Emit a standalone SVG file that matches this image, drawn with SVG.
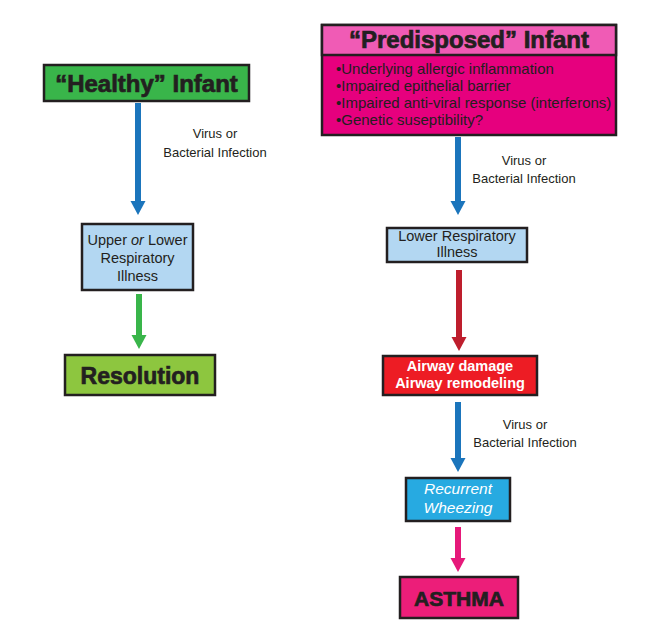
<svg xmlns="http://www.w3.org/2000/svg" width="646" height="634" viewBox="0 0 646 634">
<style>
  .box{stroke:#231f20;stroke-width:2.5}
  .t{font-family:"Liberation Sans",Arial,sans-serif;fill:#231f20;text-anchor:middle}
  .w{fill:#ffffff}
  .hd{font-weight:bold;stroke:#231f20;stroke-width:0.7}
  .lbl{font-size:13px}
  .bl{font-size:15px;fill:#231f20;font-family:"Liberation Sans",Arial,sans-serif}
  .sh{stroke-width:6;fill:none}
</style>
<defs>
  <marker id="hb" markerUnits="userSpaceOnUse" markerWidth="15" markerHeight="16" refX="0" refY="7.5" orient="auto"><path d="M0,0 L14,7.5 L0,15 z" fill="#1b75bc"/></marker>
  <marker id="hg" markerUnits="userSpaceOnUse" markerWidth="15" markerHeight="16" refX="0" refY="7.5" orient="auto"><path d="M0,0 L14,7.5 L0,15 z" fill="#39b54a"/></marker>
  <marker id="hr" markerUnits="userSpaceOnUse" markerWidth="15" markerHeight="16" refX="0" refY="7.5" orient="auto"><path d="M0,0 L14,7.5 L0,15 z" fill="#be1e2d"/></marker>
  <marker id="hp" markerUnits="userSpaceOnUse" markerWidth="15" markerHeight="16" refX="0" refY="7.5" orient="auto"><path d="M0,0 L14,7.5 L0,15 z" fill="#e6197a"/></marker>
</defs>
<rect width="646" height="634" fill="#ffffff"/>

<g id="connectors">
  <line class="sh" x1="138" y1="103" x2="138" y2="201" stroke="#1b75bc" marker-end="url(#hb)"/>
  <line class="sh" x1="139" y1="294" x2="139" y2="335" stroke="#39b54a" marker-end="url(#hg)"/>
  <line class="sh" x1="458" y1="137" x2="458" y2="201" stroke="#1b75bc" marker-end="url(#hb)"/>
  <line class="sh" x1="459" y1="270" x2="459" y2="337" stroke="#be1e2d" marker-end="url(#hr)"/>
  <line class="sh" x1="458" y1="402" x2="458" y2="458" stroke="#1b75bc" marker-end="url(#hb)"/>
  <line class="sh" x1="458" y1="527" x2="458" y2="558" stroke="#e6197a" marker-end="url(#hp)"/>
  <text class="t lbl" x="215" y="138">Virus or</text>
  <text class="t lbl" x="215" y="157">Bacterial Infection</text>
  <text class="t lbl" x="524" y="165">Virus or</text>
  <text class="t lbl" x="524" y="183">Bacterial Infection</text>
  <text class="t lbl" x="525" y="429">Virus or</text>
  <text class="t lbl" x="525" y="447">Bacterial Infection</text>
</g>

<g id="healthy">
  <rect class="box" x="44" y="65" width="205" height="36" fill="#39b54a"/>
  <text class="t hd" x="146.5" y="92" font-size="24">“Healthy” Infant</text>
</g>

<g id="predisposed">
  <rect class="box" x="322" y="25" width="294" height="110" fill="#e6007e"/>
  <rect class="box" x="322" y="25" width="294" height="30" fill="#f05bb5"/>
  <text class="t hd" x="469" y="48" font-size="24">“Predisposed” Infant</text>
  <text class="bl" x="336" y="74">•Underlying allergic inflammation</text>
  <text class="bl" x="336" y="91">•Impaired epithelial barrier</text>
  <text class="bl" x="336" y="108">•Impaired anti-viral response (interferons)</text>
  <text class="bl" x="336" y="125">•Genetic suseptibility?</text>
</g>

<g id="upper-lower">
  <rect class="box" x="82" y="224" width="111" height="66" fill="#b3d7f2"/>
  <text class="t" x="137.5" y="245" font-size="14.5">Upper <tspan font-style="italic">or</tspan> Lower</text>
  <text class="t" x="137.5" y="263" font-size="14.5">Respiratory</text>
  <text class="t" x="137.5" y="281" font-size="14.5">Illness</text>
</g>

<g id="resolution">
  <rect class="box" x="65" y="355" width="150" height="40" fill="#8dc63f"/>
  <text class="t hd" x="140" y="384" font-size="23">Resolution</text>
</g>

<g id="lower">
  <rect class="box" x="387" y="228" width="140" height="34" fill="#b3d7f2"/>
  <text class="t" x="457" y="241" font-size="14.5">Lower Respiratory</text>
  <text class="t" x="457" y="257" font-size="14.5">Illness</text>
</g>

<g id="airway">
  <rect class="box" x="383" y="356" width="154" height="39" fill="#ed1c24"/>
  <text class="t w" x="460" y="371" font-size="14.5" font-weight="bold">Airway damage</text>
  <text class="t w" x="460" y="388" font-size="14.5" font-weight="bold">Airway remodeling</text>
</g>

<g id="wheezing">
  <rect class="box" x="406" y="478" width="104" height="43" fill="#27aae1"/>
  <text class="t w" x="458" y="494" font-size="15.5" font-style="italic">Recurrent</text>
  <text class="t w" x="458" y="513" font-size="15.5" font-style="italic">Wheezing</text>
</g>

<g id="asthma">
  <rect class="box" x="400" y="577" width="118" height="41" fill="#ec1e79"/>
  <text class="t hd" x="459" y="606" font-size="21">ASTHMA</text>
</g>
</svg>
